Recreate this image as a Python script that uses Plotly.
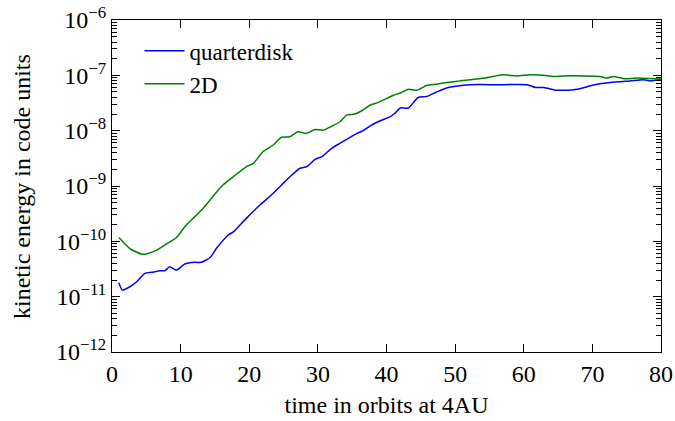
import plotly.graph_objects as go

# --- data ---
t_quarter = [1.0, 1.5, 2.6, 3.6, 4.8, 5.8, 7.0, 7.7, 8.4, 9.4, 10.6, 12.1, 13.0, 14.3,
             15.2, 16.9, 17.7, 19.6, 21.6, 23.5, 25.2, 26.2, 27.4, 28.4, 29.6, 30.6,
             32.0, 33.2, 34.7, 35.7, 36.6, 37.8, 39.1, 40.5, 41.2, 42.0, 43.2, 44.6,
             45.9, 47.3, 49.0, 52.2, 56.1, 60.5, 61.7, 62.9, 64.8, 65.8, 67.8, 69.7,
             70.7, 72.6, 75.5, 77.5, 78.4, 80.0]
e_quarter = [1.78e-11, 1.32e-11, 1.51e-11, 1.86e-11, 2.63e-11, 2.75e-11, 2.95e-11,
             2.95e-11, 3.47e-11, 3.02e-11, 3.89e-11, 4.17e-11, 4.17e-11, 5.10e-11,
             7.40e-11, 1.29e-10, 1.48e-10, 2.63e-10, 4.57e-10, 7.41e-10, 1.20e-9,
             1.58e-9, 2.09e-9, 2.24e-9, 3.02e-9, 3.39e-9, 4.79e-9, 5.89e-9, 7.59e-9,
             8.91e-9, 1.00e-8, 1.26e-8, 1.51e-8, 1.78e-8, 2.04e-8, 2.57e-8, 2.57e-8,
             3.98e-8, 4.17e-8, 5.01e-8, 6.03e-8, 6.76e-8, 6.76e-8, 6.76e-8, 6.03e-8,
             6.03e-8, 5.37e-8, 5.37e-8, 5.62e-8, 6.46e-8, 6.92e-8, 7.41e-8, 7.94e-8,
             8.32e-8, 7.94e-8, 8.51e-8]

t_2d = [1.0, 2.6, 4.3, 5.0, 6.5, 7.9, 9.4, 10.7, 11.6, 13.3, 14.7, 16.2, 17.7, 19.6,
        20.6, 22.0, 23.5, 24.7, 25.9, 27.1, 28.3, 29.6, 30.8, 32.0, 33.2, 34.2, 35.4,
        36.4, 37.6, 38.8, 40.0, 41.0, 42.0, 43.2, 44.4, 45.9, 47.3, 48.8, 50.7, 54.3,
        57.0, 59.0, 60.9, 62.9, 64.3, 65.8, 68.7, 71.1, 72.1, 73.1, 74.6, 76.5, 80.0]
e_2d = [1.17e-10, 7.41e-11, 5.89e-11, 5.89e-11, 6.92e-11, 8.91e-11, 1.17e-10, 1.90e-10,
        2.45e-10, 3.98e-10, 6.46e-10, 1.05e-9, 1.48e-9, 2.24e-9, 2.57e-9, 4.17e-9,
        5.50e-9, 7.59e-9, 7.76e-9, 9.55e-9, 8.91e-9, 1.05e-8, 1.02e-8, 1.20e-8, 1.45e-8,
        1.91e-8, 2.00e-8, 2.29e-8, 2.88e-8, 3.24e-8, 3.80e-8, 4.37e-8, 4.79e-8, 5.62e-8,
        5.37e-8, 6.61e-8, 6.92e-8, 7.41e-8, 7.94e-8, 8.91e-8, 1.02e-7, 9.77e-8, 1.02e-7,
        1.00e-7, 9.55e-8, 9.77e-8, 9.77e-8, 9.55e-8, 8.91e-8, 9.55e-8, 8.71e-8, 8.91e-8,
        8.51e-8]

x_ticks = [0, 10, 20, 30, 40, 50, 60, 70, 80]
y_exponents = [-12, -11, -10, -9, -8, -7, -6]
y_ticks = [10.0 ** e for e in y_exponents]
y_ticktext = ["10<sup>\u2212%d</sup>" % (-e) for e in y_exponents]
y_minor = [m * 10.0 ** e for e in y_exponents[:-1] for m in range(2, 10)]

FONT = "Liberation Serif"

fig = go.Figure()
fig.add_trace(go.Scatter(x=t_quarter, y=e_quarter, mode="lines", name="quarterdisk",
                         line=dict(color="#0000ff", width=1.5, shape="spline", smoothing=0.6)))
# the 2D series is drawn on an identical overlaid log axis that carries the minor ticks
fig.add_trace(go.Scatter(x=t_2d, y=e_2d, mode="lines", name="2D", yaxis="y2",
                         line=dict(color="#008000", width=1.5, shape="spline", smoothing=0.6)))

fig.update_layout(
    width=675, height=421,
    margin=dict(l=112, r=14, t=20, b=69, autoexpand=False),
    paper_bgcolor="white", plot_bgcolor="white",
    font=dict(family=FONT, size=24, color="black"),
    showlegend=True,
    legend=dict(x=0.05, y=0.972, xanchor="left", yanchor="top",
                bgcolor="rgba(0,0,0,0)", font=dict(family=FONT, size=23),
                tracegroupgap=0, itemwidth=40),
    annotations=[dict(text="kinetic energy in code units", textangle=-90,
                      xref="paper", yref="paper", x=-0.164, y=0.5,
                      xanchor="center", yanchor="middle", showarrow=False,
                      font=dict(family=FONT, size=24))],
    yaxis2=dict(type="log", range=[-12, -6], overlaying="y", side="left", anchor="x",
                tickmode="array", tickvals=y_minor, showticklabels=False,
                ticks="inside", ticklen=5, tickwidth=1.2, tickcolor="black",
                mirror="ticks", showline=False, showgrid=False, zeroline=False,
                automargin=False),
)
fig.update_xaxes(
    range=[0, 80], tickvals=x_ticks, ticks="inside", ticklen=8, tickwidth=1.2,
    tickcolor="black", showline=True, linecolor="black", linewidth=1, mirror="ticks",
    showgrid=False, zeroline=False, automargin=False,
    title=dict(text="time in orbits at 4AU", font=dict(family=FONT, size=24), standoff=10),
    tickfont=dict(family=FONT, size=24),
)
fig.update_layout(yaxis=dict(
    type="log", range=[-12, -6], tickmode="array", tickvals=y_ticks, ticktext=y_ticktext,
    ticks="inside", ticklen=8, tickwidth=1.2, tickcolor="black",
    showline=True, linecolor="black", linewidth=1, mirror="ticks",
    showgrid=False, zeroline=False, automargin=False,
    tickfont=dict(family=FONT, size=24),
))

fig.write_html("out.html")
